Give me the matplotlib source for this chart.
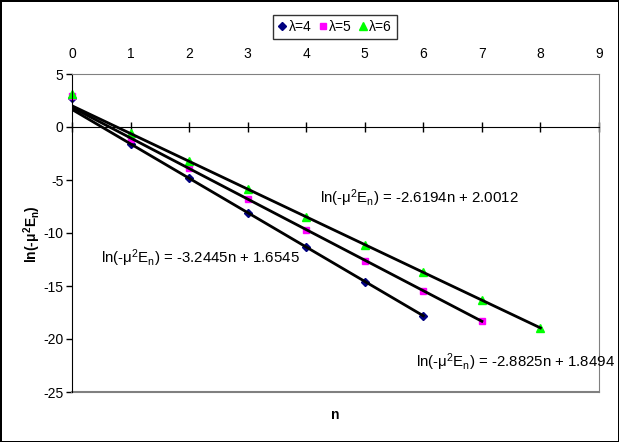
import numpy as np
import matplotlib
matplotlib.use("Agg")
import matplotlib.pyplot as plt

plt.rcParams['font.family'] = ['Liberation Sans', 'DejaVu Sans']
plt.rcParams['mathtext.default'] = 'regular'
plt.rcParams['axes.unicode_minus'] = False

# Valeurs
n4 = [0, 1, 2, 3, 4, 5, 6]
y4 = [2.7, -1.6, -4.8, -8.1, -11.3, -14.6, -17.8]
n5 = [0, 1, 2, 3, 4, 5, 6, 7]
y5 = [2.9, -1.1, -3.9, -6.8, -9.7, -12.6, -15.45, -18.3]
n6 = [0, 1, 2, 3, 4, 5, 6, 7, 8]
y6 = [3.1, -0.6, -3.2, -5.85, -8.5, -11.1, -13.7, -16.3, -19.0]

# Droites de tendance (pente, ordonnée à l'origine)
fit4 = (-3.2445, 1.6545)
fit5 = (-2.8825, 1.8494)
fit6 = (-2.6194, 2.0012)

labels = ["λ=4", "λ=5", "λ=6"]
x_ticks = list(range(0, 10))
y_ticks = [-25, -20, -15, -10, -5, 0, 5]

W, H = 619, 442
fig = plt.figure(figsize=(W / 100, H / 100), dpi=100)
fig.patch.set_edgecolor('black')
fig.patch.set_linewidth(2)
ax = fig.add_axes([72 / W, (H - 392) / H, (599 - 72) / W, (392 - 74) / H])

series = [(n4, y4, fit4, '#000080', 'D', 4.5),
          (n5, y5, fit5, '#FF00FF', 's', 4.5),
          (n6, y6, fit6, '#00FF00', '^', 5.5)]

for (n, y, fit, col, mk, ms), lab in zip(series, labels):
    ax.plot(n, y, linestyle='none', marker=mk, color=col, markersize=ms,
            label=lab, zorder=2, clip_on=False)
    xx = np.array([n[0], n[-1]])
    ax.plot(xx, fit[0] * xx + fit[1], color='black', lw=2, zorder=3)

# Equations
def eq(fit):
    return r"ln(-μ$^{2}$E$_{n}$) = %.4fn + %.4f" % fit

ax.text(4.23, -6.7, eq(fit6), fontsize=10.8, va='center', ha='left')
ax.text(0.5, -12.4, eq(fit4), fontsize=10.8, va='center', ha='left')
ax.text(5.87, -22.2, eq(fit5), fontsize=10.8, va='center', ha='left')

ax.set_xlim(0, 9)
ax.set_ylim(-25, 5)
ax.set_xticks(x_ticks)
ax.set_yticks(y_ticks)

ax.spines['bottom'].set_position(('data', 0))
ax.spines['bottom'].set_color('black')
ax.spines['left'].set_color('black')
ax.spines['top'].set_color('#808080')
ax.spines['right'].set_color('#808080')
ax.axhline(-25, color='#808080', lw=1.5, clip_on=False)

ax.tick_params(axis='x', bottom=True, top=False, labelbottom=False,
               labeltop=True, direction='inout', length=7, pad=5.5,
               labelsize=10, width=1)
ax.tick_params(axis='y', direction='out', length=4, labelsize=10, width=1, pad=2)

fig.text(32 / W, 1 - 234 / H, r"ln(-μ$^{2}$E$_{n}$)", rotation=90,
         fontsize=10, fontweight='bold', ha='center', va='center')
fig.text(335 / W, 1 - 415 / H, "n", fontsize=10, fontweight='bold',
         ha='center', va='center')

leg = fig.legend(loc='upper center', bbox_to_anchor=(335 / W, 1 - 8 / H),
                 ncol=3, frameon=True, fancybox=False, edgecolor='black',
                 handlelength=0.6, handletextpad=0.15, columnspacing=0.5,
                 borderpad=0.35, fontsize=10, markerscale=1.0)
leg.get_frame().set_linewidth(1)

fig.savefig("out.png", dpi=100)
